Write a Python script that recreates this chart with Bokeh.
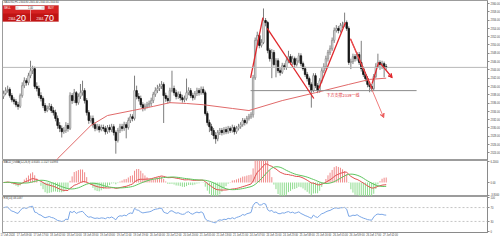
import numpy as np
from bokeh.plotting import figure
from bokeh.layouts import column
from bokeh.models import (Range1d, FixedTicker, Label, BoxAnnotation, Span, Arrow,
                          VeeHead, NumeralTickFormatter)
from bokeh.embed import file_html
from bokeh.resources import INLINE

# ---------------- data ----------------
symbol = "XAUUSD,H1"
first_open = 2337.6
closes = [
    2338.3, 2339.0, 2339.3, 2337.8, 2336.8, 2336.4, 2335.6, 2335.2,
    2337.8, 2340.2, 2341.4, 2340.9, 2342.6, 2343.8, 2344.3, 2340.0,
    2339.5, 2337.8, 2337.1, 2335.4, 2334.2, 2334.7, 2335.2, 2334.2,
    2333.7, 2332.3, 2330.6, 2329.9, 2329.1, 2329.4, 2330.6, 2329.9,
    2337.8, 2336.6, 2338.5, 2336.1, 2337.6, 2338.5, 2339.0, 2336.6,
    2333.7, 2331.8, 2332.3, 2330.8, 2329.9, 2330.3, 2329.6, 2330.1,
    2329.9, 2329.1, 2330.1, 2329.6, 2330.3, 2328.9, 2327.0, 2329.4,
    2330.3, 2329.9, 2330.8, 2330.1, 2331.8, 2332.7, 2332.3, 2339.0,
    2337.6, 2337.1, 2335.6, 2334.7, 2335.2, 2335.6, 2335.9, 2336.6,
    2338.1, 2339.0, 2339.5, 2340.0, 2340.5, 2337.8, 2337.1, 2336.6,
    2339.0, 2339.5, 2338.5, 2337.6, 2338.1, 2337.3, 2336.8, 2337.1,
    2338.5, 2339.0, 2337.8, 2337.3, 2338.3, 2339.0, 2338.5, 2339.3,
    2338.5, 2333.5, 2331.3, 2330.3, 2329.4, 2328.2, 2327.4, 2328.9,
    2329.4, 2328.9, 2329.6, 2329.1, 2329.9, 2329.4, 2330.1, 2329.1,
    2329.9, 2330.3, 2330.8, 2331.8, 2331.3, 2332.3, 2332.7, 2333.2,
    2342.1, 2351.1, 2352.3, 2349.9, 2350.6, 2355.9, 2355.4, 2348.7,
    2346.7, 2348.2, 2345.3, 2346.2, 2343.8, 2343.4, 2345.0, 2344.6,
    2346.2, 2347.2, 2345.8, 2346.7, 2345.3, 2346.2, 2347.4, 2345.5,
    2344.3, 2342.9, 2341.9, 2340.5, 2339.0, 2342.6, 2340.2, 2339.0,
    2341.4, 2343.8, 2344.8, 2346.7, 2348.2, 2349.1, 2351.1, 2353.5,
    2354.0, 2353.5, 2354.7, 2354.9, 2355.4, 2354.0, 2345.8, 2346.0,
    2347.2, 2346.7, 2347.7, 2345.8, 2344.3, 2342.9, 2341.9, 2340.5,
    2340.0, 2339.5, 2342.4, 2344.8, 2345.8, 2345.3, 2345.5, 2344.8,
    2344.6,
]
highs = [
    2339.0, 2339.8, 2340.2, 2339.8, 2338.4, 2337.4, 2337.0, 2336.3,
    2338.3, 2341.0, 2342.2, 2342.0, 2343.3, 2346.2, 2345.0, 2344.8,
    2341.0, 2340.2, 2338.6, 2337.6, 2336.0, 2335.4, 2336.0, 2335.8,
    2335.0, 2334.4, 2333.0, 2331.4, 2330.6, 2330.2, 2331.4, 2331.2,
    2338.6, 2338.4, 2339.4, 2338.9, 2338.3, 2340.6, 2341.4, 2339.6,
    2337.2, 2334.3, 2333.0, 2333.0, 2331.4, 2331.0, 2330.9, 2330.8,
    2330.8, 2330.5, 2330.7, 2330.8, 2331.0, 2330.9, 2329.4, 2330.0,
    2331.0, 2331.0, 2331.5, 2331.4, 2332.5, 2333.4, 2333.3, 2342.6,
    2340.2, 2338.4, 2337.8, 2336.2, 2335.9, 2336.3, 2336.6, 2337.3,
    2338.7, 2339.8, 2340.4, 2340.7, 2341.3, 2341.0, 2338.5, 2337.8,
    2339.7, 2343.8, 2340.2, 2339.2, 2338.8, 2338.8, 2338.0, 2337.8,
    2341.9, 2339.8, 2339.6, 2338.5, 2338.9, 2339.7, 2339.6, 2340.0,
    2340.0, 2339.0, 2334.0, 2332.0, 2331.0, 2330.0, 2329.0, 2329.5,
    2330.0, 2330.0, 2330.2, 2330.3, 2330.5, 2330.4, 2330.8, 2330.6,
    2330.5, 2331.0, 2331.4, 2332.4, 2332.3, 2332.9, 2333.4, 2333.8,
    2342.8, 2351.8, 2353.2, 2352.8, 2351.4, 2358.8, 2356.5, 2355.8,
    2349.2, 2349.0, 2348.8, 2346.8, 2346.8, 2344.4, 2345.7, 2345.6,
    2346.8, 2348.6, 2347.8, 2347.4, 2347.2, 2346.9, 2348.1, 2348.0,
    2346.0, 2344.8, 2343.5, 2342.4, 2341.0, 2343.2, 2343.2, 2340.8,
    2342.0, 2344.4, 2345.6, 2347.4, 2348.8, 2349.9, 2351.8, 2354.2,
    2354.8, 2354.6, 2355.3, 2355.6, 2357.8, 2355.9, 2354.5, 2346.7,
    2347.9, 2347.8, 2348.3, 2348.3, 2351.0, 2344.8, 2343.5, 2342.5,
    2341.2, 2340.6, 2343.0, 2345.6, 2347.9, 2346.3, 2346.2, 2346.0,
    2345.4,
]
lows = [
    2337.0, 2337.9, 2338.5, 2337.3, 2336.2, 2335.7, 2335.0, 2334.4,
    2334.8, 2337.3, 2339.6, 2340.2, 2340.3, 2342.0, 2343.0, 2339.4,
    2338.8, 2337.2, 2336.4, 2334.8, 2333.6, 2333.8, 2334.3, 2333.6,
    2333.0, 2331.6, 2329.8, 2329.0, 2327.7, 2328.6, 2328.8, 2329.1,
    2329.5, 2335.8, 2336.0, 2335.4, 2335.6, 2337.0, 2337.8, 2335.9,
    2333.0, 2331.0, 2331.3, 2330.1, 2329.2, 2329.4, 2328.9, 2329.2,
    2329.2, 2328.4, 2328.6, 2328.9, 2329.0, 2328.2, 2323.8, 2326.5,
    2328.8, 2329.2, 2329.3, 2327.5, 2329.6, 2331.2, 2331.6, 2331.8,
    2336.9, 2336.4, 2335.0, 2334.0, 2334.2, 2334.7, 2335.0, 2335.2,
    2336.0, 2337.5, 2338.4, 2338.9, 2339.4, 2331.2, 2336.3, 2335.9,
    2336.0, 2338.6, 2337.8, 2336.9, 2337.0, 2336.6, 2336.1, 2336.2,
    2336.6, 2337.9, 2337.2, 2336.6, 2336.8, 2337.7, 2337.8, 2338.0,
    2338.0, 2333.0, 2330.6, 2329.0, 2328.3, 2327.3, 2326.2, 2326.8,
    2328.3, 2328.2, 2328.4, 2328.5, 2328.6, 2328.8, 2328.9, 2328.4,
    2328.6, 2329.4, 2329.8, 2330.3, 2330.6, 2330.9, 2331.8, 2332.2,
    2332.5, 2341.6, 2350.2, 2349.2, 2349.4, 2350.2, 2354.5, 2348.0,
    2346.0, 2342.0, 2344.8, 2342.2, 2343.2, 2342.6, 2343.0, 2344.0,
    2344.0, 2345.6, 2345.2, 2345.2, 2344.6, 2344.8, 2345.7, 2344.9,
    2343.8, 2342.3, 2341.2, 2339.8, 2334.9, 2338.6, 2339.6, 2338.4,
    2338.5, 2340.8, 2343.2, 2344.2, 2346.0, 2347.6, 2348.6, 2350.5,
    2353.0, 2352.8, 2353.0, 2354.1, 2354.4, 2353.4, 2345.2, 2344.2,
    2345.4, 2346.0, 2346.2, 2345.2, 2343.6, 2342.3, 2341.2, 2339.8,
    2338.6, 2338.8, 2339.0, 2342.0, 2344.5, 2344.0, 2344.2, 2342.2,
    2344.0,
]
date_labels = [
    "17 Jun 2024", "17 Jun 09:00", "17 Jun 17:00", "18 Jun 02:00", "18 Jun 10:00",
    "18 Jun 18:00", "19 Jun 03:00", "19 Jun 11:00", "19 Jun 19:00", "20 Jun 04:00",
    "20 Jun 12:00", "20 Jun 20:00", "21 Jun 05:00", "21 Jun 13:00", "21 Jun 21:00",
    "24 Jun 07:00", "24 Jun 15:00", "24 Jun 23:00", "25 Jun 08:00", "25 Jun 16:00",
    "26 Jun 01:00", "26 Jun 09:00", "26 Jun 17:00", "27 Jun 02:00",
]
price_ticks = list(range(2324, 2361, 2))
ma_index = [24, 26, 30, 42, 50, 62, 72, 80, 88, 96, 110, 118, 134, 150, 166, 176, 184]
ma_values = [2321.2, 2322.6, 2324.6, 2330.6, 2333.0, 2334.2, 2335.2, 2336.1, 2335.9,
             2335.6, 2334.7, 2334.2, 2336.6, 2338.5, 2340.5, 2341.7, 2342.0]
# hand-drawn trend lines (bar index, price)
zig_x0 = [118.8, 126.8, 151.6, 166.8, 177.2]
zig_y0 = [2342.1, 2354.0, 2339.5, 2351.5, 2340.7]
zig_x1 = [124.7, 149.2, 164.4, 177.2, 180.4]
zig_y1 = [2356.6, 2337.1, 2355.4, 2339.5, 2345.8]
arrow_x0 = [166.8, 181.3]
arrow_y0 = [2351.5, 2345.5]
arrow_x1 = [182.8, 186.9]
arrow_y1 = [2332.5, 2342.1]
support_level = 2339.0
support_from, support_to = 118.8, 198.6
support_text = "下方支撑2339一线"
bid_big, ask_big = "20", "70"
bid_small, ask_small = "2344.", "2344."
lot_size = "1.00"

# ---------------- indicators from the candles ----------------
c = np.array(closes)
o = np.array([first_open] + closes[:-1])
h = np.array(highs)
l = np.array(lows)
n = len(c)
idx = np.arange(n)


def ema(a, period):
    k = 2.0 / (period + 1)
    out = np.empty_like(a)
    out[0] = a[0]
    for i in range(1, len(a)):
        out[i] = a[i] * k + out[i - 1] * (1 - k)
    return out


macd = ema(c, 12) - ema(c, 26)
signal = np.array([macd[max(0, i - 8):i + 1].mean() for i in range(n)])
osma = macd - signal

d = np.diff(c)
gains = np.where(d > 0, d, 0.0)
losses = np.where(d < 0, -d, 0.0)
ag, al = gains[:14].mean(), losses[:14].mean()
rsi = [100 - 100 / (1 + ag / al)]
for j in range(len(d)):
    ag = (ag * 13 + gains[j]) / 14
    al = (al * 13 + losses[j]) / 14
    rsi.append(100 - 100 / (1 + ag / al) if al > 0 else 100)
rsi = np.array(rsi)

# ---------------- geometry ----------------
FW = 485
BAR_PX = 2.08
X0 = -0.48
X1 = X0 + FW / BAR_PX
MAIN_H = 160
PX_PRICE = 0.241
Y_TOP = 2360.72
Y_BOT = Y_TOP - MAIN_H * PX_PRICE
FONT = "Liberation Sans"
AX_FS = "2.6px"


def dx(px):
    return X0 + (px - 2) / BAR_PX


def dy(py):
    return Y_TOP - py * PX_PRICE


def style_y(ax):
    ax.axis_line_color = "#8a8a8a"
    ax.major_tick_line_color = "#8a8a8a"
    ax.major_tick_out = 2
    ax.major_tick_in = 0
    ax.minor_tick_line_color = None
    ax.major_label_text_font_size = AX_FS
    ax.major_label_text_color = "#444444"
    ax.major_label_text_font = FONT
    ax.major_label_standoff = 1


def base_fig(fh, yr, **kw):
    f = figure(frame_width=FW, frame_height=fh, x_range=main_xr, y_range=yr,
               output_backend="svg", toolbar_location=None,
               y_axis_location="right", min_border_left=2, min_border_right=13,
               min_border_top=0, background_fill_color="white",
               border_fill_color="white", outline_line_color="#9c9c9c", **kw)
    f.grid.grid_line_color = None
    return f


main_xr = Range1d(X0, X1)

# ---------------- main price panel ----------------
p = base_fig(MAIN_H, Range1d(Y_BOT, Y_TOP), x_axis_location=None, min_border_bottom=0)
style_y(p.yaxis[0])
p.yaxis[0].ticker = FixedTicker(ticks=price_ticks)
p.yaxis[0].formatter = NumeralTickFormatter(format="0.00")

p.add_layout(Span(location=closes[-1], dimension="width", line_color="#b8b8b8", line_width=1))

p.segment(idx, l, idx, h, line_color="#7d7d7d", line_width=1)
up = c >= o
dn = ~up
p.vbar(x=idx[up], width=0.7, bottom=o[up], top=c[up], fill_color="white",
       line_color="#8a8a8a", line_width=0.8)
p.vbar(x=idx[dn], width=0.7, bottom=o[dn], top=c[dn], fill_color="#141414",
       line_color="#141414", line_width=0.8)

p.line(ma_index, ma_values, line_color="#e06a6a", line_width=1)

p.segment([support_from], [support_level], [support_to], [support_level],
          line_color="#8c8c8c", line_width=1)
p.add_layout(Label(x=support_from + 36.5, y=support_level, y_offset=-1.5,
                   text=support_text, text_font="Noto Sans CJK SC",
                   text_font_size="4px", text_color="#e0262b", text_baseline="top"))

p.segment(zig_x0, zig_y0, zig_x1, zig_y1, line_color="#e0262b", line_width=1.3)
for k in range(len(arrow_x0)):
    lw = 0.8 if k == 0 else 1.3
    col = "#ec5b5b" if k == 0 else "#e0262b"
    p.add_layout(Arrow(end=VeeHead(size=4, line_color=col, line_width=1, fill_color=col),
                       x_start=arrow_x0[k], y_start=arrow_y0[k],
                       x_end=arrow_x1[k], y_end=arrow_y1[k],
                       line_color=col, line_width=lw))

# current price tag on the price scale
p.add_layout(Label(x=X1, y=closes[-1], x_offset=1, text=f"{closes[-1]:.2f}",
                   text_font=FONT, text_font_size=AX_FS, text_color="white",
                   text_baseline="middle", background_fill_color="black",
                   border_line_color="black"))

# header text
p.add_layout(Label(x=dx(3), y=dy(0.2),
                   text=f"{symbol}  {o[-1]:.2f} {h[-1]:.2f} {l[-1]:.2f} {c[-1]:.2f}",
                   text_font=FONT, text_font_size=AX_FS, text_color="#333333",
                   text_baseline="top"))

# one-click trading panel
p.add_layout(BoxAnnotation(left=dx(2), right=dx(58), top=dy(5), bottom=dy(21),
                           fill_color="#d62222", fill_alpha=1, line_color="#a80e0e",
                           line_width=1))
p.add_layout(BoxAnnotation(left=dx(2.5), right=dx(57.5), top=dy(13), bottom=dy(20.5),
                           fill_color="#c01414", fill_alpha=1, line_color=None))
p.add_layout(BoxAnnotation(left=dx(29.6), right=dx(30.4), top=dy(9.5), bottom=dy(20.5),
                           fill_color="#f2b0b0", fill_alpha=1, line_color=None))
p.add_layout(BoxAnnotation(left=dx(15), right=dx(44), top=dy(5.6), bottom=dy(9.2),
                           fill_color="white", fill_alpha=1, line_color="#a0a0a0",
                           line_width=0.5))
p.add_layout(BoxAnnotation(left=dx(15.4), right=dx(18), top=dy(6), bottom=dy(8.8),
                           fill_color="#e4e4e4", fill_alpha=1, line_color=None))
p.add_layout(BoxAnnotation(left=dx(41), right=dx(43.6), top=dy(6), bottom=dy(8.8),
                           fill_color="#e4e4e4", fill_alpha=1, line_color=None))
for txt, px in (("SELL", 3.5), ("BUY", 47.5)):
    p.add_layout(Label(x=dx(px), y=dy(5.6), text=txt, text_font=FONT,
                       text_font_size="2.8px", text_color="white", text_baseline="top"))
p.add_layout(Label(x=dx(30), y=dy(5.9), text=lot_size, text_font=FONT,
                   text_font_size="2.6px", text_color="#333333", text_baseline="top",
                   text_align="center"))
for small, big, px in ((bid_small, bid_big, 15.5), (ask_small, ask_big, 43.5)):
    p.add_layout(Label(x=dx(px), y=dy(19.3), text=small, text_font=FONT,
                       text_font_size="3px", text_color="white", text_align="right",
                       text_baseline="bottom"))
    p.add_layout(Label(x=dx(px), y=dy(20), text=big, text_font=FONT,
                       text_font_size="9px", text_color="white", text_baseline="bottom"))

# ---------------- MACD / OsMA panel ----------------
M_TOP, M_BOT = 6.6, -4.2
m = base_fig(36, Range1d(M_BOT, M_TOP), x_axis_location=None, min_border_bottom=0)
style_y(m.yaxis[0])
m.yaxis[0].ticker = FixedTicker(ticks=[6.2, 0, -3.8])
m.yaxis[0].major_label_overrides = {6.2: "6.2000", 0: "0.00", -3.8: "-3.8000"}
hist = osma * 3.0
hist_cols = ["#f08a8a" if v > 0 else "#8fdc8f" for v in hist]
m.segment(idx, np.zeros(n), idx, hist, line_color=hist_cols, line_width=1)
m.line(idx, macd, line_color="#e05050", line_width=1)
m.line(idx, signal, line_color="#5ec45e", line_width=1)
m.add_layout(Label(x=X0 + 0.5, y=M_TOP, y_offset=-0.5,
                   text=f"MACD_OsMA(12,26,9) {macd[-1]:.4f} {signal[-1]:.4f} {osma[-1]:.4f}",
                   text_font=FONT, text_font_size=AX_FS, text_color="#333333",
                   text_baseline="top"))

# ---------------- RSI panel ----------------
r = base_fig(36, Range1d(-2, 102), min_border_bottom=10)
style_y(r.yaxis[0])
r.yaxis[0].ticker = FixedTicker(ticks=[0, 30, 70, 100])
for lvl in (30, 70):
    r.add_layout(Span(location=lvl, dimension="width", line_color="#c4c4c4",
                      line_width=1, line_dash="2 2"))
r.line(idx, rsi, line_color="#7aa6e6", line_width=1)
r.add_layout(Label(x=X0 + 0.5, y=102, y_offset=-0.5, text=f"RSI(14) {rsi[-1]:.4f}",
                   text_font=FONT, text_font_size=AX_FS, text_color="#333333",
                   text_baseline="top"))
tick_pos = [2 + 8 * k for k in range(len(date_labels))]
xa = r.xaxis[0]
xa.ticker = FixedTicker(ticks=tick_pos)
xa.major_label_overrides = {t: s for t, s in zip(tick_pos, date_labels)}
xa.axis_line_color = "#8a8a8a"
xa.major_tick_line_color = "#8a8a8a"
xa.major_tick_out = 1
xa.major_tick_in = 0
xa.minor_tick_line_color = None
xa.major_label_text_font_size = AX_FS
xa.major_label_text_font = FONT
xa.major_label_text_color = "#444444"
xa.major_label_standoff = 1

layout = column(p, m, r)
open("out.html", "w").write(file_html(layout, INLINE))
